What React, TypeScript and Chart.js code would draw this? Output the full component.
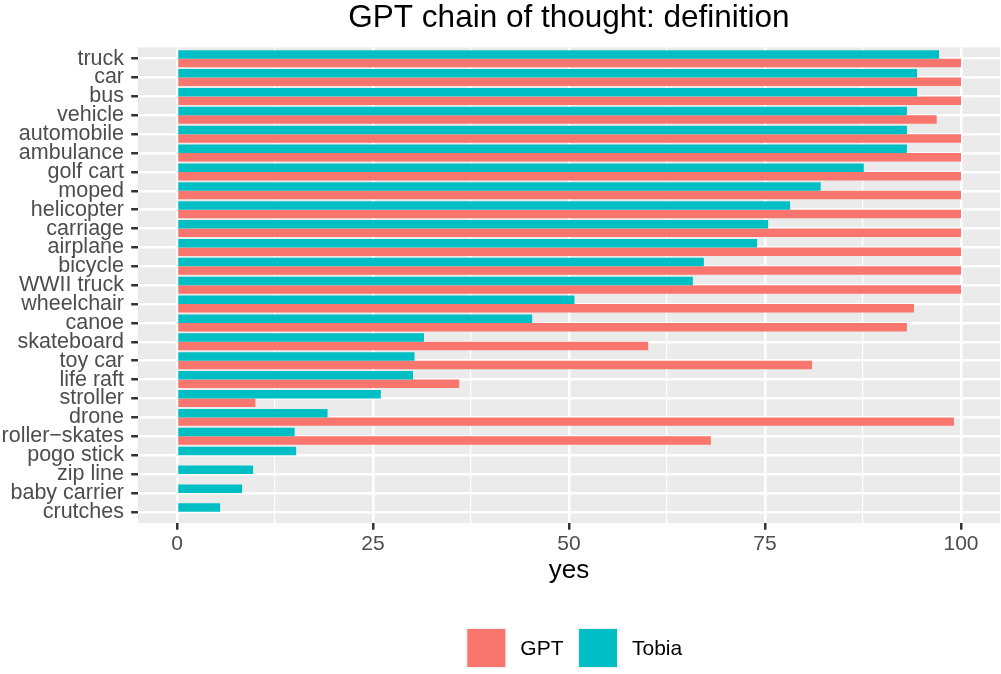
import React, { useEffect, useRef } from 'react';
import { Chart, registerables } from 'chart.js';

Chart.register(...registerables);

const categories = [
  'truck', 'car', 'bus', 'vehicle', 'automobile', 'ambulance', 'golf cart', 'moped',
  'helicopter', 'carriage', 'airplane', 'bicycle', 'WWII truck', 'wheelchair', 'canoe',
  'skateboard', 'toy car', 'life raft', 'stroller', 'drone', 'roller\u2212skates',
  'pogo stick', 'zip line', 'baby carrier', 'crutches',
];
const tobiaValues = [
  97.2, 94.4, 94.4, 93.1, 93.1, 93.1, 87.6, 82.1, 78.2, 75.4, 74.0, 67.2, 65.8,
  50.7, 45.3, 31.5, 30.3, 30.1, 26.0, 19.2, 15.0, 15.2, 9.7, 8.3, 5.5,
];
const gptValues: (number | null)[] = [
  100, 100, 100, 96.9, 100, 100, 100, 100, 100, 100, 100, 100, 100,
  94.0, 93.1, 60.1, 81.0, 36.0, 10.0, 99.1, 68.1, null, null, null, null,
];
const xMajorTicks = [0, 25, 50, 75, 100];
const xMinorTicks = [12.5, 37.5, 62.5, 87.5];
const seriesNames = ['GPT', 'Tobia'];
const chartTitle = 'GPT chain of thought: definition';
const xTitle = 'yes';

const FONT = '"Liberation Sans", Arial, Helvetica, sans-serif';
const GPT_COLOR = '#F8766D';
const TOBIA_COLOR = '#00BFC4';

export default function App() {
  const ref = useRef<HTMLCanvasElement>(null);

  useEffect(() => {
    document.body.style.margin = '0';
    const canvas = ref.current!;

    const decor = {
      id: 'ggdecor',
      beforeDraw(chart: any) {
        const { ctx, chartArea: a } = chart;
        ctx.save();
        ctx.fillStyle = '#EBEBEB';
        ctx.fillRect(a.left, a.top, a.right - a.left, a.bottom - a.top);
        ctx.restore();
      },
      afterDraw(chart: any) {
        const { ctx, chartArea: a } = chart;
        const cx = (a.left + a.right) / 2;
        ctx.save();
        ctx.fillStyle = '#000000';
        ctx.font = `31.5px ${FONT}`;
        ctx.textAlign = 'center';
        ctx.textBaseline = 'alphabetic';
        ctx.fillText(chartTitle, cx, 26.5);

        ctx.font = `21px ${FONT}`;
        const key = 41;
        const gapText = 13.5;
        const gapItem = 14;
        const colors = [GPT_COLOR, TOBIA_COLOR];
        const widths = seriesNames.map((s) => ctx.measureText(s).width);
        const total =
          seriesNames.reduce((s, _n, i) => s + key + gapText + widths[i], 0) +
          gapItem * (seriesNames.length - 1);
        let x = cx + 5 - total / 2;
        const yTop = 627.5;
        seriesNames.forEach((name, i) => {
          ctx.fillStyle = '#F2F2F2';
          ctx.fillRect(x, yTop, key, key);
          ctx.fillStyle = colors[i];
          ctx.fillRect(x + 1.5, yTop + 1.5, key - 3, key - 3);
          ctx.fillStyle = '#000000';
          ctx.textAlign = 'left';
          ctx.textBaseline = 'middle';
          ctx.fillText(name, x + key + gapText, yTop + key / 2 + 1);
          x += key + gapText + widths[i] + gapItem;
        });
        ctx.restore();
      },
    };

    const chart = new Chart(canvas, {
      type: 'bar',
      data: {
        datasets: [
          {
            label: 'Tobia',
            data: tobiaValues.map((v, i) => ({ x: v, y: i })),
            backgroundColor: TOBIA_COLOR,
            categoryPercentage: 0.9,
            barPercentage: 1,
          },
          {
            label: 'GPT',
            data: gptValues
              .map((v, i) => (v == null ? null : { x: v, y: i }))
              .filter((d) => d !== null) as any,
            backgroundColor: GPT_COLOR,
            categoryPercentage: 0.9,
            barPercentage: 1,
          },
        ],
      },
      options: {
        indexAxis: 'y',
        responsive: false,
        animation: false,
        devicePixelRatio: 1,
        layout: { padding: { top: 47.35, left: 0, right: 0.8, bottom: 70.9 } },
        plugins: {
          legend: { display: false },
          title: { display: false },
          tooltip: { enabled: false },
        },
        scales: {
          x: {
            type: 'linear',
            position: 'bottom',
            min: -5,
            max: 105,
            offset: false,
            afterBuildTicks: (s: any) => {
              s.ticks = [...xMajorTicks, ...xMinorTicks]
                .sort((p, q) => p - q)
                .map((v) => ({ value: v }));
            },
            afterFit: (s: any) => {
              s.height = 80;
            },
            grid: {
              offset: false,
              color: '#FFFFFF',
              lineWidth: (c: any) => (xMajorTicks.includes(c.tick?.value) ? 2.5 : 1.25),
              tickColor: (c: any) =>
                xMajorTicks.includes(c.tick?.value) ? '#333333' : 'rgba(0,0,0,0)',
              tickLength: 6.6,
              tickWidth: 2.5,
            },
            border: { display: false },
            ticks: {
              callback: (v: any) => (xMajorTicks.includes(v) ? String(v) : ''),
              color: '#4D4D4D',
              font: { family: FONT, size: 21 },
              padding: 1.5,
              maxRotation: 0,
              autoSkip: false,
            },
            title: {
              display: true,
              text: xTitle,
              color: '#000000',
              font: { family: FONT, size: 26 },
              padding: { top: 0, bottom: 16.5 },
            },
          },
          y: {
            type: 'linear',
            min: -0.6,
            max: categories.length - 1 + 0.6,
            reverse: true,
            offset: false,
            afterBuildTicks: (s: any) => {
              s.ticks = categories.map((_c, i) => ({ value: i }));
            },
            afterFit: (s: any) => {
              s.width = 137.8;
            },
            grid: {
              offset: false,
              color: '#FFFFFF',
              lineWidth: 2.5,
              tickColor: '#333333',
              tickLength: 6.6,
              tickWidth: 2.5,
            },
            border: { display: false },
            ticks: {
              callback: (v: any) => categories[v] ?? '',
              color: '#4D4D4D',
              font: { family: FONT, size: 21.5 },
              padding: 7.2,
              autoSkip: false,
            },
          },
        },
      },
      plugins: [decor],
    } as any);

    return () => chart.destroy();
  }, []);

  return (
    <div style={{ width: 1001, height: 674 }}>
      <canvas ref={ref} width={1001} height={674} style={{ display: 'block' }} />
    </div>
  );
}
